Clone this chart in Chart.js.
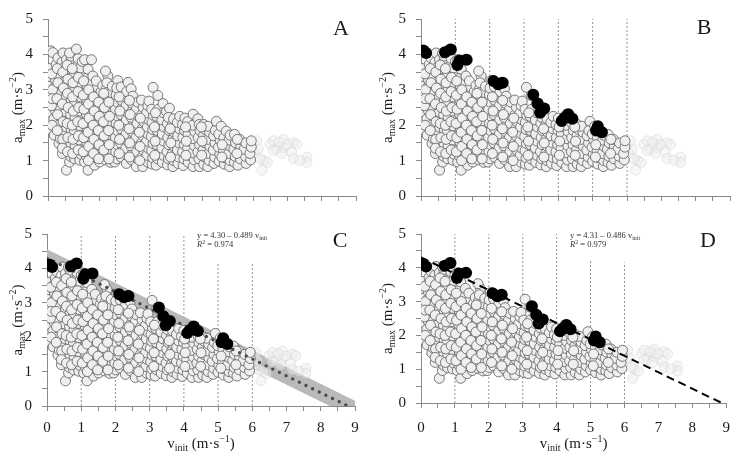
<!DOCTYPE html>
<html lang="en">
<head>
<meta charset="UTF-8">
<title>a_max vs v_init</title>
<script src="https://cdn.jsdelivr.net/npm/chart.js@4"></script>
<style>
  body { margin: 0; background: #fff; }
  .wrap { position: relative; width: 741px; height: 466px; }
  canvas { position: absolute; }
</style>
</head>
<body>
<div class="wrap">
  <canvas id="chartA" width="370" height="215" style="left:0;top:0"></canvas>
  <canvas id="chartB" width="371" height="215" style="left:370px;top:0"></canvas>
  <canvas id="chartC" width="370" height="251" style="left:0;top:215px"></canvas>
  <canvas id="chartD" width="371" height="251" style="left:370px;top:215px"></canvas>
</div>
<script>
// all trials: [v_init, a_max]
const cloudPts = [
  [0.03,3.60],[0.05,3.35],[0.02,3.10],[0.06,2.88],[0.03,2.65],[0.05,2.45],[0.02,2.32],[0.07,2.10],[0.05,1.88],[0.08,4.10],[0.14,4.05],
  [0.18,1.72],[0.22,1.95],[0.17,2.18],[0.21,2.42],[0.19,2.62],[0.23,2.85],[0.18,3.05],[0.22,3.28],[0.19,3.50],[0.24,3.72],[0.29,3.90],
  [0.32,1.48],[0.36,1.62],[0.38,1.82],[0.33,2.02],[0.37,2.25],[0.34,2.48],[0.39,2.70],[0.35,2.92],[0.38,3.15],[0.33,3.38],[0.36,3.58],[0.41,3.78],[0.44,4.04],
  [0.42,1.20],[0.48,1.35],[0.52,1.55],[0.47,1.75],[0.53,1.95],[0.49,2.15],[0.52,2.38],[0.47,2.58],[0.53,2.80],[0.50,3.00],[0.47,3.22],[0.52,3.45],[0.49,3.65],[0.54,3.85],[0.54,0.73],
  [0.63,0.96],[0.66,1.12],[0.61,1.30],[0.67,1.48],[0.63,1.68],[0.68,1.88],[0.62,2.08],[0.66,2.30],[0.63,2.50],[0.68,2.72],[0.62,2.92],[0.67,3.12],[0.64,3.32],[0.69,3.55],[0.63,3.75],[0.67,3.95],[0.63,4.04],
  [0.78,1.05],[0.82,1.22],[0.79,1.42],[0.84,1.62],[0.77,1.82],[0.83,2.02],[0.79,2.22],[0.82,2.45],[0.78,2.65],[0.84,2.85],[0.79,3.05],[0.83,3.25],[0.77,3.45],[0.82,3.65],[0.88,3.88],[0.83,4.15],
  [0.93,1.01],[0.96,1.18],[0.98,1.38],[0.92,1.58],[0.97,1.78],[0.94,1.98],[0.99,2.18],[0.93,2.40],[0.97,2.60],[0.95,2.80],[0.99,3.00],[0.94,3.20],[0.98,3.42],[0.95,3.62],[1.00,3.80],
  [1.07,0.96],[1.17,0.73],[1.12,1.12],[1.08,1.32],[1.13,1.52],[1.09,1.72],[1.14,1.92],[1.10,2.12],[1.12,2.32],[1.07,2.52],[1.13,2.72],[1.09,2.92],[1.14,3.12],[1.10,3.32],[1.17,3.58],[1.07,3.85],
  [1.27,1.05],[1.24,1.25],[1.29,1.45],[1.23,1.65],[1.28,1.85],[1.25,2.05],[1.30,2.25],[1.24,2.45],[1.27,2.65],[1.23,2.85],[1.29,3.05],[1.26,3.22],[1.31,3.39],[1.27,3.85],
  [1.36,0.87],[1.42,1.08],[1.39,1.28],[1.44,1.48],[1.38,1.68],[1.43,1.88],[1.40,2.08],[1.45,2.28],[1.38,2.48],[1.42,2.68],[1.39,2.88],[1.44,3.08],[1.41,3.25],
  [1.51,0.96],[1.56,1.15],[1.53,1.35],[1.58,1.55],[1.52,1.75],[1.57,1.95],[1.54,2.15],[1.59,2.35],[1.53,2.55],[1.57,2.75],[1.55,2.95],[1.60,3.12],
  [1.68,1.02],[1.72,1.22],[1.67,1.42],[1.73,1.62],[1.69,1.82],[1.74,2.02],[1.68,2.22],[1.72,2.42],[1.67,2.62],[1.73,2.82],[1.70,3.02],[1.75,3.39],[1.68,3.53],[1.72,3.20],
  [1.83,0.95],[1.87,1.12],[1.82,1.32],[1.88,1.52],[1.84,1.72],[1.89,1.92],[1.83,2.12],[1.87,2.32],[1.85,2.52],[1.90,2.72],[1.84,2.92],[1.88,3.10],
  [1.95,0.96],[2.01,1.05],[1.98,1.25],[2.03,1.45],[1.97,1.65],[2.02,1.85],[1.99,2.05],[2.04,2.25],[1.97,2.45],[2.02,2.65],[1.99,2.85],[2.04,3.26],[2.01,3.05],
  [2.14,1.10],[2.17,1.30],[2.12,1.50],[2.18,1.70],[2.14,1.90],[2.19,2.10],[2.13,2.30],[2.17,2.50],[2.15,2.70],[2.20,2.90],[2.14,3.08],
  [2.29,0.92],[2.31,1.15],[2.27,1.35],[2.33,1.55],[2.28,1.75],[2.32,1.95],[2.29,2.15],[2.34,2.35],[2.28,2.55],[2.32,2.75],[2.34,3.21],[2.30,2.95],
  [2.44,1.02],[2.47,1.22],[2.42,1.42],[2.48,1.62],[2.45,1.82],[2.49,2.02],[2.43,2.22],[2.47,2.42],[2.45,2.62],[2.43,3.03],[2.48,2.82],
  [2.58,0.83],[2.62,1.05],[2.59,1.25],[2.63,1.45],[2.57,1.65],[2.62,1.85],[2.60,2.05],[2.64,2.25],[2.58,2.45],[2.62,2.65],
  [2.77,0.83],[2.74,1.10],[2.78,1.30],[2.73,1.50],[2.77,1.70],[2.75,1.90],[2.79,2.10],[2.74,2.30],[2.78,2.50],[2.73,2.71],
  [2.92,0.95],[2.89,1.15],[2.93,1.35],[2.88,1.55],[2.92,1.75],[2.90,1.95],[2.94,2.15],[2.88,2.35],[2.92,2.55],[2.95,2.68],
  [3.04,0.90],[3.06,1.08],[3.03,1.28],[3.07,1.48],[3.02,1.68],[3.06,1.88],[3.04,2.08],[3.08,2.28],[3.03,2.45],[3.07,3.07],
  [3.16,0.87],[3.20,1.05],[3.23,1.25],[3.18,1.45],[3.22,1.65],[3.19,1.85],[3.24,2.05],[3.18,2.25],[3.21,2.84],[3.22,2.45],
  [3.34,0.95],[3.37,1.15],[3.33,1.35],[3.38,1.55],[3.34,1.75],[3.39,1.95],[3.33,2.15],[3.36,2.61],[3.37,2.35],
  [3.49,0.88],[3.52,1.05],[3.48,1.25],[3.53,1.45],[3.50,1.65],[3.54,1.85],[3.49,2.05],[3.46,2.39],[3.55,2.48],[3.52,2.22],
  [3.65,0.83],[3.67,1.00],[3.63,1.20],[3.68,1.40],[3.64,1.60],[3.69,1.80],[3.63,2.00],[3.67,2.18],
  [3.80,0.92],[3.82,1.10],[3.78,1.30],[3.83,1.50],[3.79,1.70],[3.84,1.90],[3.78,2.08],[3.85,2.25],
  [3.95,0.86],[3.97,1.05],[3.93,1.25],[3.98,1.45],[3.94,1.65],[3.99,1.85],[3.93,2.02],[4.00,2.20],
  [4.10,0.95],[4.12,1.15],[4.08,1.35],[4.13,1.55],[4.09,1.75],[4.14,1.95],[4.08,2.10],
  [4.24,0.83],[4.27,1.02],[4.23,1.22],[4.28,1.42],[4.24,1.62],[4.29,1.82],[4.23,2.00],[4.24,2.31],
  [4.43,0.83],[4.41,1.05],[4.38,1.25],[4.43,1.45],[4.39,1.65],[4.44,1.85],[4.38,2.18],[4.42,2.02],
  [4.55,0.90],[4.57,1.10],[4.53,1.30],[4.58,1.50],[4.54,1.70],[4.59,1.88],[4.55,2.02],
  [4.67,0.83],[4.71,1.00],[4.69,1.20],[4.73,1.40],[4.68,1.60],[4.72,1.80],[4.67,1.97],
  [4.85,0.92],[4.87,1.10],[4.83,1.30],[4.88,1.50],[4.84,1.70],[4.89,1.85],[4.92,2.11],
  [5.00,0.98],[5.02,1.18],[4.98,1.38],[5.03,1.58],[4.99,1.75],[5.06,1.97],
  [5.15,0.90],[5.17,1.08],[5.13,1.28],[5.18,1.48],[5.14,1.65],[5.21,1.83],
  [5.31,0.83],[5.32,1.00],[5.28,1.20],[5.33,1.40],[5.29,1.58],[5.32,1.72],
  [5.45,0.95],[5.47,1.12],[5.43,1.32],[5.48,1.50],[5.45,1.74],
  [5.55,0.87],[5.62,1.05],[5.58,1.25],[5.63,1.42],[5.60,1.60],
  [5.79,0.92],[5.77,1.12],[5.73,1.32],[5.78,1.50],
  [5.92,1.02],[5.90,1.20],[5.94,1.38],[5.94,1.56],
  // denser core
  [0.12,2.00],[0.10,2.55],[0.13,3.00],[0.11,3.45],[0.12,2.75],
  [0.27,1.85],[0.28,2.30],[0.26,2.75],[0.29,3.20],[0.27,3.60],
  [0.43,1.60],[0.44,2.10],[0.42,2.60],[0.45,3.05],[0.43,3.50],[0.42,1.35],
  [0.57,1.25],[0.58,1.65],[0.56,2.05],[0.59,2.50],[0.57,2.90],[0.58,3.30],[0.56,3.70],
  [0.72,1.20],[0.73,1.60],[0.71,2.00],[0.74,2.40],[0.72,2.80],[0.73,3.20],[0.71,3.60],
  [0.88,1.30],[0.89,1.70],[0.87,2.10],[0.90,2.50],[0.88,2.95],[0.89,3.35],
  [1.03,1.25],[1.04,1.65],[1.02,2.05],[1.05,2.45],[1.03,2.85],[1.04,3.25],
  [1.18,1.00],[1.19,1.40],[1.17,1.80],[1.20,2.20],[1.18,2.60],[1.19,3.00],
  [1.33,1.20],[1.34,1.60],[1.32,2.00],[1.35,2.40],[1.33,2.80],
  [1.48,1.05],[1.49,1.45],[1.47,1.85],[1.50,2.25],[1.48,2.65],
  [1.63,1.30],[1.64,1.70],[1.62,2.10],[1.65,2.50],[1.63,2.90],
  [1.78,1.05],[1.79,1.45],[1.77,1.85],[1.80,2.25],[1.78,2.65],
  [2.08,1.20],[2.09,1.60],[2.07,2.00],[2.10,2.40],[2.08,2.80],
  [2.38,1.10],[2.39,1.50],[2.37,1.90],[2.40,2.30],[2.38,2.70],
  [2.68,1.00],[2.69,1.40],[2.67,1.80],[2.70,2.20],
  [3.12,1.15],[3.13,1.55],[3.11,1.95],[3.14,2.35],
  [3.58,1.10],[3.59,1.50],[3.57,1.90],
  [4.03,1.15],[4.04,1.55],[4.02,1.95],
  [4.49,1.15],[4.50,1.55],[4.48,1.95],
  [5.08,1.10],[5.09,1.45],
  [5.52,1.20],[5.53,1.60]
];
// trials above 6 m/s (faded)
const fadedPts = [
  [6.10,1.56],[6.25,0.73],[6.49,1.46],[6.59,1.56],[6.69,1.33],[6.88,1.60],[6.59,1.28],[7.17,1.51],
  [7.27,1.46],[7.12,1.24],[7.17,1.06],[7.56,1.10],[7.56,0.95],[7.36,1.01],[6.31,1.00],[6.41,0.95],
  [6.06,1.20],[6.15,1.33],[6.88,1.37],[6.98,1.46],[6.83,1.20],[6.20,1.05],[6.75,1.52]
];
// maximal values per velocity bin
const blackPts = [
  [0.07,4.11],[0.15,4.04],[0.70,4.06],[0.87,4.14],[1.06,3.70],[1.12,3.83],[1.33,3.85],
  [2.11,3.25],[2.25,3.16],[2.38,3.20],[3.27,2.86],[3.40,2.61],[3.47,2.35],[3.59,2.47],
  [4.10,2.12],[4.17,2.20],[4.29,2.31],[4.41,2.18],[5.15,1.97],[5.10,1.85],[5.27,1.80]
];
const bandUpper = [[0, 4.56], [9, 0.15]];
const bandLower = [[0, 4.04], [9, -0.36]];
const fitC = [[0, 4.30], [8.79, 0]];
const fitD = [[0, 4.31], [8.87, 0]];
const markD = [[3.46, 2.32]];
const guideX = [1, 2, 3, 4, 5, 6];
const guideTopB = [5, 5, 5, 5, 5, 5];
const guideTopC = [5, 5, 5, 5, 4.15, 4.15];
const guideTopD = [5, 5, 5, 5, 4.2, 4.16];
const eqC = ['4.30', '0.489', '0.974'];
const eqD = ['4.31', '0.486', '0.979'];

const SERIF = '"Liberation Serif", "DejaVu Serif", serif';
const AXIS = '#8a8a8a';

const xy = arr => arr.map(p => ({x: p[0], y: p[1]}));

function guideData(tops) {
    const d = [];
    guideX.forEach((x, i) => { d.push({x: x, y: 0}, {x: x, y: tops[i]}, {x: x, y: null}); });
    return d;
}

function rich(ctx, x, y, parts, align) {
    let w = 0;
    parts.forEach(p => { ctx.font = (p[3] || '') + p[1] + 'px ' + SERIF; w += ctx.measureText(p[0]).width; });
    let cx = align === 'center' ? x - w / 2 : x;
    ctx.textAlign = 'left';
    parts.forEach(p => {
        ctx.font = (p[3] || '') + p[1] + 'px ' + SERIF;
        ctx.fillText(p[0], cx, y + p[2]);
        cx += ctx.measureText(p[0]).width;
    });
}

const panelText = {
    id: 'panelText',
    afterDraw(chart, args, o) {
        const ctx = chart.ctx, a = chart.chartArea;
        ctx.save();
        ctx.fillStyle = '#1a1a1a';
        ctx.textBaseline = 'alphabetic';

        ctx.save();
        ctx.translate(22, (a.top + a.bottom) / 2);
        ctx.rotate(-Math.PI / 2);
        rich(ctx, 0, 0, [['a', 15, 0], ['max', 10, 3], [' (m\u00b7s', 15, 0], ['\u22122', 10, -6], [')', 15, 0]], 'center');
        ctx.restore();

        if (o.xTitle) {
            rich(ctx, (a.left + a.right) / 2, 233, [['v', 15, 0], ['init', 10, 3], [' (m\u00b7s', 15, 0], ['\u22121', 10, -6], [')', 15, 0]], 'center');
        }

        ctx.font = '22px ' + SERIF;
        ctx.textAlign = 'center';
        ctx.fillText(o.letter, o.letterX, o.letterY);

        if (o.eq) {
            ctx.fillStyle = '#333';
            rich(ctx, o.eqX, 23, [['y = ' + o.eq[0] + ' \u2013 ' + o.eq[1] + ' v', 8.5, 0], ['init', 6, 2]], 'left');
            rich(ctx, o.eqX, 32, [['R', 8.5, 0, 'italic '], ['2', 6, -3], [' = ' + o.eq[2], 8.5, 0]], 'left');
        }
        ctx.restore();
    }
};

function makePanel(id, box, cfg) {
    const canvas = document.getElementById(id);
    const W = canvas.width, H = canvas.height;

    const datasets = [];
    datasets.push({ // background guides
        data: guideData(cfg.guideTop || [0, 0, 0, 0, 0, 0]),
        showLine: true, spanGaps: false, pointRadius: 0,
        borderColor: cfg.guideTop ? '#7a7a7a' : 'rgba(0,0,0,0)',
        borderWidth: 0.8, borderDash: [2, 2], order: 9
    });
    if (cfg.band) {
        datasets.push({
            data: xy(bandUpper), showLine: true, pointRadius: 0, borderWidth: 0,
            backgroundColor: '#b9b9b9', fill: '+1', order: 8
        });
        datasets.push({
            data: xy(bandLower), showLine: true, pointRadius: 0, borderWidth: 0,
            backgroundColor: '#b9b9b9', fill: false, order: 8
        });
    }
    datasets.push({
        data: xy(fadedPts), pointRadius: 5, pointBorderWidth: 0.8,
        backgroundColor: 'rgba(238,238,238,0.5)', borderColor: 'rgba(195,195,195,0.45)', order: 5
    });
    datasets.push({
        data: xy(cloudPts), pointRadius: 5, pointBorderWidth: 0.9,
        backgroundColor: '#efefef', borderColor: '#6a6a6a', order: 4
    });
    if (cfg.fit === 'dots') {
        datasets.push({
            data: xy(fitC), showLine: true, pointRadius: 0, borderColor: '#4a4a4a',
            borderWidth: 3.4, borderDash: [0, 7.4], borderCapStyle: 'round', order: 3
        });
    }
    if (cfg.fit === 'dash') {
        datasets.push({
            data: xy(fitD), showLine: true, pointRadius: 0, borderColor: '#000',
            borderWidth: 2, borderDash: [8, 5], order: 3
        });
        datasets.push({
            data: xy(markD), pointStyle: 'crossRot', pointRadius: 4,
            borderColor: '#111', pointBorderWidth: 1.2, order: 1
        });
    }
    if (cfg.black) {
        datasets.push({
            data: xy(blackPts), pointRadius: 6, pointBorderWidth: 0,
            backgroundColor: '#000', borderColor: '#000', order: 2
        });
    }

    new Chart(canvas, {
        type: 'scatter',
        data: { datasets: datasets },
        options: {
            responsive: false,
            animation: false,
            devicePixelRatio: 1,
            events: [],
            layout: { padding: { top: box.top, right: W - box.right, left: 0, bottom: 0 } },
            plugins: {
                legend: { display: false },
                tooltip: { enabled: false },
                panelText: cfg.text
            },
            scales: {
                x: {
                    type: 'linear', min: 0, max: 9, position: 'bottom',
                    ticks: {
                        stepSize: 0.5, autoSkip: false, maxRotation: 0, padding: box.xPad,
                        color: '#1a1a1a', font: { family: SERIF, size: 15 },
                        callback: v => (cfg.xLabels && Number.isInteger(v)) ? String(v) : ''
                    },
                    grid: { drawOnChartArea: false, tickLength: 5, color: AXIS, lineWidth: 1 },
                    border: { color: AXIS, width: 1 },
                    afterFit: s => { s.height = H - box.bottom; }
                },
                y: {
                    type: 'linear', min: 0, max: 5, position: 'left',
                    ticks: {
                        stepSize: 0.5, autoSkip: false, padding: 10,
                        color: '#1a1a1a', font: { family: SERIF, size: 15 },
                        callback: v => Number.isInteger(v) ? String(v) : ''
                    },
                    grid: { drawOnChartArea: false, tickLength: 5, color: AXIS, lineWidth: 1 },
                    border: { color: AXIS, width: 1 },
                    afterFit: s => { s.width = box.left; }
                }
            }
        },
        plugins: [panelText]
    });
}

makePanel('chartA', { left: 48, right: 356, top: 18, bottom: 200, xPad: 4 },
    { text: { letter: 'A', letterX: 341, letterY: 35 } });
makePanel('chartB', { left: 51, right: 360, top: 17, bottom: 200, xPad: 4 },
    { black: true, guideTop: guideTopB, text: { letter: 'B', letterX: 334, letterY: 34 } });
makePanel('chartC', { left: 47, right: 355, top: 9, bottom: 191, xPad: 8 },
    { black: true, band: true, fit: 'dots', xLabels: true, guideTop: guideTopC,
      text: { letter: 'C', letterX: 340, letterY: 32, xTitle: true, eq: eqC, eqX: 197 } });
makePanel('chartD', { left: 51, right: 359, top: 10, bottom: 188, xPad: 11 },
    { black: true, fit: 'dash', xLabels: true, guideTop: guideTopD,
      text: { letter: 'D', letterX: 338, letterY: 32, xTitle: true, eq: eqD, eqX: 200 } });
</script>
</body>
</html>
